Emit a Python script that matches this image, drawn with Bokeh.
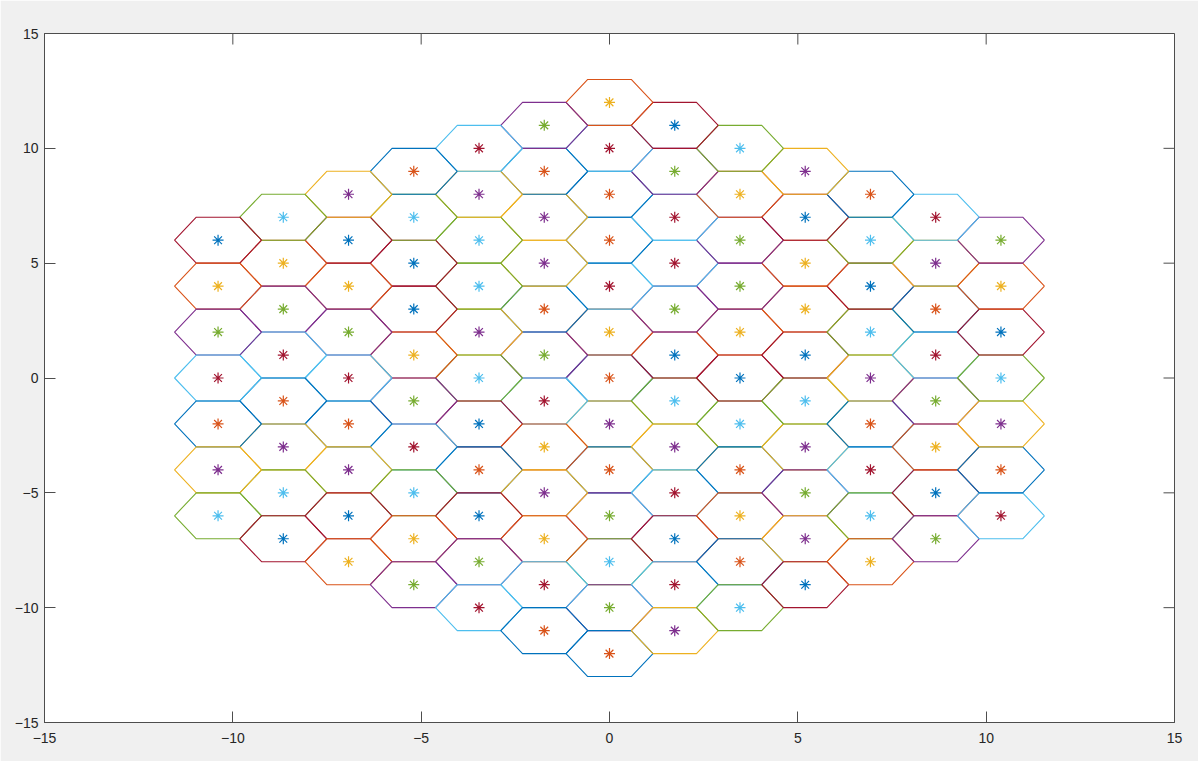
import math

from bokeh.embed import file_html
from bokeh.models import ColumnDataSource, FixedTicker, LinearAxis, Range1d
from bokeh.plotting import figure
from bokeh.resources import INLINE

# Default line colour order, cycled once per plotted object
color_order = ["#0072BD", "#D95319", "#EDB120", "#7E2F8E", "#77AC30", "#4DBEEE", "#A2142F"]

# Cell centres, ring by ring, counter-clockwise from the bottom cell of each ring.
# col is the hex column (x = col * sqrt(3)), y is the vertical centre.
ring0_col = [0]
ring0_y = [0]
ring1_col = [0, 1, 1, 0, -1, -1]
ring1_y = [-2, -1, 1, 2, 1, -1]
ring2_col = [0, 1, 2, 2, 2, 1, 0, -1, -2, -2, -2, -1]
ring2_y = [-4, -3, -2, 0, 2, 3, 4, 3, 2, 0, -2, -3]
ring3_col = [0, 1, 2, 3, 3, 3, 3, 2, 1, 0, -1, -2, -3, -3, -3, -3, -2, -1]
ring3_y = [-6, -5, -4, -3, -1, 1, 3, 4, 5, 6, 5, 4, 3, 1, -1, -3, -4, -5]
ring4_col = [0, 1, 2, 3, 4, 4, 4, 4, 4, 3, 2, 1, 0, -1, -2, -3, -4, -4, -4, -4, -4, -3, -2, -1]
ring4_y = [-8, -7, -6, -5, -4, -2, 0, 2, 4, 5, 6, 7, 8, 7, 6, 5, 4, 2, 0, -2, -4, -5, -6, -7]
ring5_col = [0, 1, 2, 3, 4, 5, 5, 5, 5, 5, 5, 4, 3, 2, 1, 0, -1, -2, -3, -4, -5, -5, -5, -5, -5, -5,
             -4, -3, -2, -1]
ring5_y = [-10, -9, -8, -7, -6, -5, -3, -1, 1, 3, 5, 6, 7, 8, 9, 10, 9, 8, 7, 6, 5, 3, 1, -1, -3, -5,
           -6, -7, -8, -9]
ring6_col = [0, 1, 2, 3, 4, 5, 6, 6, 6, 6, 6, 6, 6, 5, 4, 3, 2, 1, 0, -1, -2, -3, -4, -5, -6, -6, -6,
             -6, -6, -6, -6, -5, -4, -3, -2, -1]
ring6_y = [-12, -11, -10, -9, -8, -7, -6, -4, -2, 0, 2, 4, 6, 7, 8, 9, 10, 11, 12, 11, 10, 9, 8, 7, 6,
           4, 2, 0, -2, -4, -6, -7, -8, -9, -10, -11]

cell_col = ring0_col + ring1_col + ring2_col + ring3_col + ring4_col + ring5_col + ring6_col
cell_y = ring0_y + ring1_y + ring2_y + ring3_y + ring4_y + ring5_y + ring6_y

axis_ticks = [-15, -10, -5, 0, 5, 10, 15]
axis_lo, axis_hi = -15, 15

SQ3 = math.sqrt(3)
R = 2 / SQ3  # circumradius of a flat-topped cell of height 2

cx = [c * SQ3 for c in cell_col]
cy = list(cell_y)

hex_xs, hex_ys, hex_colors, star_colors = [], [], [], []
for i, (x0, y0) in enumerate(zip(cx, cy)):
    hex_xs.append([x0 + R, x0 + R / 2, x0 - R / 2, x0 - R, x0 - R / 2, x0 + R / 2, x0 + R])
    hex_ys.append([y0, y0 + 1, y0 + 1, y0, y0 - 1, y0 - 1, y0])
    # each cell draws its outline, then its centre marker
    hex_colors.append(color_order[(2 * i) % 7])
    star_colors.append(color_order[(2 * i + 1) % 7])

hex_src = ColumnDataSource(dict(xs=hex_xs, ys=hex_ys, color=hex_colors))
star_src = ColumnDataSource(dict(x=cx, y=cy, color=star_colors))

FRAME_W, FRAME_H = 1130, 689
TICK_PX = 11
AXIS_COLOR = "#4d4d4d"

p = figure(
    frame_width=FRAME_W,
    frame_height=FRAME_H,
    x_range=Range1d(axis_lo, axis_hi),
    y_range=Range1d(axis_lo, axis_hi),
    output_backend="svg",
    toolbar_location=None,
    x_axis_location=None,
    y_axis_location=None,
    min_border_left=44,
    min_border_right=24,
    min_border_top=33,
    min_border_bottom=39,
)
p.background_fill_color = "white"
p.border_fill_color = "#F0F0F0"
p.outline_line_color = AXIS_COLOR
p.outline_line_width = 1
p.xgrid.visible = False
p.ygrid.visible = False

p.multi_line(xs="xs", ys="ys", line_color="color", line_width=1.1, source=hex_src)
p.scatter(x="x", y="y", marker="asterisk", size=11, line_color="color", line_width=1.2,
          source=star_src)

# inward ticks on the top and right edges of the box (no labels there)
tick_dy = TICK_PX * (axis_hi - axis_lo) / FRAME_H
tick_dx = TICK_PX * (axis_hi - axis_lo) / FRAME_W
n = len(axis_ticks)
p.segment(x0=axis_ticks, y0=[axis_hi] * n, x1=axis_ticks, y1=[axis_hi - tick_dy] * n,
          line_color=AXIS_COLOR, line_width=1)
p.segment(x0=[axis_hi] * n, y0=axis_ticks, x1=[axis_hi - tick_dx] * n, y1=axis_ticks,
          line_color=AXIS_COLOR, line_width=1)


def make_axis(standoff):
    ax = LinearAxis(ticker=FixedTicker(ticks=axis_ticks))
    ax.axis_line_color = AXIS_COLOR
    ax.axis_line_width = 1
    ax.major_tick_line_color = AXIS_COLOR
    ax.major_tick_in = TICK_PX
    ax.major_tick_out = 0
    ax.minor_tick_line_color = None
    ax.major_label_text_font = "Liberation Sans"
    ax.major_label_text_font_size = "14px"
    ax.major_label_text_color = "#262626"
    ax.major_label_standoff = standoff
    return ax


p.add_layout(make_axis(10), "below")
p.add_layout(make_axis(6), "left")

open("out.html", "w").write(file_html(p, INLINE))
